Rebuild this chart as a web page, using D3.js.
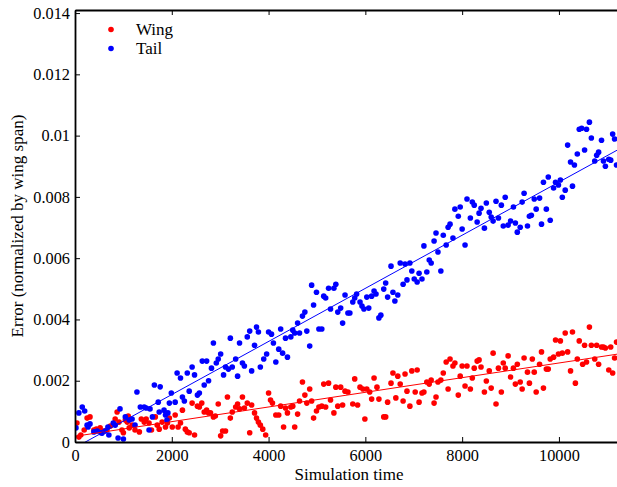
<!DOCTYPE html>
<html>
<head>
<meta charset="utf-8">
<script src="https://cdn.jsdelivr.net/npm/d3@7"></script>
<style>
  body { margin: 0; background: #fff; }
  svg text { font-family: "Liberation Serif", "Times New Roman", Times, "DejaVu Serif", serif; }
</style>
</head>
<body>
<div id="chart"></div>
<script>
// [time, error]
const wingPoints = [
  [0,.00049],[40,.00062],[80,.00016],[120,.00023],[190,.00039],[250,.00078],[310,.00082],[390,.00039],[440,.00042],[520,.00046],
  [600,.00036],[660,.00039],[730,.00052],[830,.00075],[870,.00098],[910,.00065],[970,.00039],[1000,.0003],[1040,.00072],[1080,.00065],
  [1100,.00085],[1120,.00046],[1180,.00055],[1240,.00039],[1330,.00033],[1370,.00075],[1430,.00065],[1470,.00075],[1530,.00062],[1580,.00039],
  [1660,.00082],[1700,.00055],[1740,.00042],[1800,.00065],[1870,.00049],[1910,.00062],[1950,.00078],
  [2010,.00049],[2070,.00088],[2130,.00049],[2180,.00062],[2220,.00104],[2280,.00042],[2320,.00033],[2360,.0003],[2420,.00127],[2470,.00023],
  [2530,.00117],[2570,.00114],[2620,.00127],[2670,.00098],[2720,.00104],[2760,.00095],[2800,.00095],[2860,.00082],[2900,.00085],[2960,.00124],
  [3010,.0002],[3050,.00036],[3110,.00036],[3150,.00147],[3210,.00078],[3250,.00098],[3320,.00114],[3360,.00124],[3400,.00108],[3460,.00147],
  [3500,.00111],[3560,.00127],[3610,.0003],[3650,.00121],[3710,.00095],[3750,.00078],[3790,.00065],[3830,.00055],[3880,.00042],[3940,.00023],
  [4000,.0016],[4040,.00137],[4080,.00127],[4150,.00088],[4210,.00088],[4250,.00117],[4310,.00049],[4350,.00111],[4390,.00095],[4460,.00114],
  [4500,.00117],[4540,.00049],[4600,.00091],[4640,.00134],[4700,.00196],[4750,.00153],[4790,.00127],[4850,.00173],[4890,.00134],[4930,.00078],
  [4990,.00101],[5040,.00114],[5100,.00117],[5140,.00189],[5180,.00114],[5240,.00192],[5280,.00137],[5350,.00095],[5390,.00179],[5430,.00117],
  [5490,.00179],[5530,.00121],[5580,.00166],[5640,.00163],
  [5740,.00124],[5780,.00206],[5840,.00121],[5890,.00179],[5950,.00173],[5990,.00075],[6030,.00173],[6090,.00163],[6130,.0014],[6180,.00209],
  [6240,.00179],[6280,.0014],[6380,.00082],[6420,.00082],[6460,.0013],[6530,.00192],[6570,.00225],[6630,.00144],[6670,.00215],[6720,.00189],
  [6780,.00134],[6820,.00222],[6860,.00166],[6920,.00117],[6960,.00232],[7030,.00163],[7070,.00235],[7110,.0013],[7170,.0016],[7210,.00163],
  [7270,.00196],[7320,.00189],[7360,.00202],[7420,.00127],[7460,.00147],[7500,.00196],[7560,.00202],
  [7610,.00225],[7670,.00261],[7710,.00173],[7750,.00271],[7810,.00248],[7850,.00258],[7920,.00153],[7960,.00215],[8000,.00248],[8060,.00183],
  [8100,.00248],[8170,.00173],[8210,.00209],[8250,.00241],[8310,.00264],[8350,.00268],[8390,.00245],[8460,.00163],[8500,.00199],[8560,.00232],
  [8600,.00176],[8640,.0029],[8700,.00124],[8750,.00241],[8810,.00163],[8850,.00258],[8890,.00241],[8950,.00281],[9000,.00212],[9060,.00241],
  [9100,.00189],[9140,.00254],[9200,.00196],[9240,.00173],[9280,.00274],[9350,.00228],[9390,.00192],
  [9450,.00271],[9490,.00228],[9530,.00163],[9600,.00254],[9640,.00294],[9680,.00176],[9740,.00238],[9780,.00238],[9820,.00271],[9890,.00277],
  [9930,.00333],[9990,.00287],[10030,.0033],[10070,.0029],[10130,.00356],[10180,.00294],[10240,.00232],[10280,.00359],[10340,.00192],[10380,.00271],
  [10420,.0033],[10490,.00254],[10530,.00316],[10570,.00261],[10630,.00375],[10670,.00316],[10740,.00271],[10780,.00316],[10820,.00254],[10880,.0031],
  [10920,.0031],[10960,.00307],[11030,.00235],[11070,.0031],[11110,.00225],[11150,.00274],[11190,.00326]
];

const tailPoints = [
  [20,.00046],[80,.00095],[150,.00114],[200,.00101],[250,.00055],[270,.00049],[310,.00059],[390,.00033],[460,.00036],[540,.0003],
  [560,.00029],[620,.00036],[680,.00049],[700,.00023],[790,.00062],[830,.00055],[890,.00013],[930,.00108],[1000,.0001],[1040,.00082],
  [1120,.00072],[1180,.00075],[1240,.00055],[1280,.00163],[1350,.00114],[1430,.00114],[1470,.00111],[1530,.00039],[1550,.00108],[1600,.00082],
  [1640,.00186],[1720,.0013],[1740,.00098],[1760,.0018],[1840,.00104],[1870,.00088],[1900,.00072],[1920,.00095],[1950,.00127],[1990,.0016],
  [2070,.0013],[2110,.00225],[2180,.00209],[2220,.00147],[2260,.00134],[2320,.00225],[2360,.00166],[2420,.00245],[2470,.00219],[2530,.00153],
  [2570,.0016],[2630,.00264],[2670,.00186],[2720,.00264],[2760,.002],[2820,.00241],[2860,.00323],[2920,.00258],[2960,.00271],[3010,.00287],
  [3070,.00219],[3110,.00245],[3170,.00238],[3210,.00339],[3250,.00245],[3320,.00271],[3360,.00215],[3400,.00323],[3460,.00258],[3500,.00248],
  [3560,.00343],[3610,.00362],[3650,.00232],[3710,.00316],[3750,.00375],[3790,.00359],[3830,.00245],
  [3900,.00271],[3960,.00287],[4000,.00359],[4060,.00352],[4100,.00323],[4150,.00261],[4210,.00303],[4250,.00369],[4290,.0029],[4350,.00339],
  [4390,.00277],[4460,.00343],[4500,.00365],[4540,.00356],[4600,.00388],[4640,.00356],[4700,.00411],[4750,.00424],[4790,.00362],[4850,.00313],
  [4890,.00512],[4930,.00447],[4990,.00489],[5040,.00369],[5100,.00369],[5140,.00476],[5180,.0047],[5240,.00502],[5280,.00434],[5350,.00502],
  [5390,.00515],[5430,.00424],[5490,.00437],[5530,.00388],[5580,.0048],[5640,.00421],[5680,.00421],
  [5740,.00457],[5780,.0047],[5820,.00483],[5890,.00457],[5930,.00444],[5970,.00434],[6030,.00473],[6070,.00437],[6130,.00476],[6180,.00493],
  [6220,.00483],[6280,.00405],[6320,.00414],[6380,.00499],[6420,.00519],[6460,.00473],[6530,.00574],[6570,.00489],[6610,.0046],[6670,.0048],
  [6720,.00584],[6780,.00515],[6820,.00581],[6860,.00529],[6920,.00584],[6960,.00558],[7010,.00532],[7070,.00522],[7110,.00551],[7170,.00532],
  [7210,.0064],[7270,.00555],[7320,.00594],[7360,.00584],[7420,.00656],[7460,.00682],[7500,.0062],[7560,.00558],
  [7610,.00675],[7670,.00643],[7710,.00701],[7750,.00711],[7810,.00666],[7850,.0076],[7920,.00737],[7960,.00767],[8000,.00695],[8060,.00643],
  [8100,.00793],[8170,.00731],[8210,.00783],[8250,.00773],[8310,.00718],[8350,.00747],[8390,.00763],[8460,.00698],[8500,.0078],[8560,.0075],
  [8600,.00734],[8640,.00721],[8700,.00786],[8750,.00731],[8810,.00773],[8850,.00705],[8890,.00799],[8950,.00708],[9000,.00721],[9060,.00767],
  [9100,.00715],[9140,.00685],[9200,.00701],[9240,.00783],[9280,.00812],[9350,.00705],[9390,.00737],
  [9430,.0074],[9490,.00793],[9530,.0076],[9600,.00796],[9640,.00711],[9680,.00848],[9740,.0076],[9780,.00865],[9820,.00724],[9890,.00829],
  [9930,.00848],[9990,.00839],[10030,.00855],[10070,.00799],[10130,.00822],[10180,.00969],[10240,.00914],[10280,.00835],[10320,.00904],[10380,.0094],
  [10420,.01021],[10470,.01024],[10530,.00953],[10570,.01021],[10630,.01044],[10670,.00992],[10740,.00917],[10780,.00936],[10820,.00946],[10880,.00985],
  [10920,.00917],[10960,.009],[11030,.00923],[11070,.0092],[11110,.01005],[11150,.00989],[11190,.00904]
];

const xTicks = [0, 2000, 4000, 6000, 8000, 10000];
const yTicks = [0, 0.002, 0.004, 0.006, 0.008, 0.01, 0.012, 0.014];
const seriesNames = ["Wing", "Tail"];
const seriesColors = ["#ff0000", "#0000ff"];

const width = 617, height = 487;
const margin = { left: 75, right: 617, top: 10, bottom: 442 };
const serifFont = "'Liberation Serif', 'Times New Roman', Times, 'DejaVu Serif', serif";

const svg = d3.select("#chart").append("svg").attr("width", width).attr("height", height)
  .attr("font-family", serifFont);

const x = d3.scaleLinear().domain([0, 11200]).range([margin.left, margin.right]);
const y = d3.scaleLinear().domain([0, 0.0141]).range([margin.bottom, margin.top]);

svg.append("clipPath").attr("id", "plotClip")
  .append("rect").attr("x", margin.left).attr("y", margin.top)
  .attr("width", margin.right - margin.left).attr("height", margin.bottom - margin.top);

// least squares fit
function fit(points) {
  const mx = d3.mean(points, d => d[0]), my = d3.mean(points, d => d[1]);
  let sxy = 0, sxx = 0;
  points.forEach(d => { sxy += (d[0] - mx) * (d[1] - my); sxx += (d[0] - mx) ** 2; });
  const b = sxy / sxx;
  return { a: my - b * mx, b: b };
}

const plot = svg.append("g").attr("clip-path", "url(#plotClip)");
[wingPoints, tailPoints].forEach((pts, i) => {
  plot.append("g").selectAll("circle")
    .data(pts)
    .join("circle")
    .attr("cx", d => x(d[0]))
    .attr("cy", d => y(d[1]))
    .attr("r", 2.8)
    .attr("fill", seriesColors[i]);
});
[wingPoints, tailPoints].forEach((pts, i) => {
  const f = fit(pts);
  const xs = x.domain();
  plot.append("line")
    .attr("x1", x(xs[0])).attr("y1", y(f.a + f.b * xs[0]))
    .attr("x2", x(xs[1])).attr("y2", y(f.a + f.b * xs[1]))
    .attr("stroke", seriesColors[i])
    .attr("stroke-width", 1);
});

// axes, ticks pointing inward
const fmt = d => String(+d.toFixed(3));
const xAxis = svg.append("g").attr("transform", `translate(0,${margin.bottom})`)
  .call(d3.axisBottom(x).tickValues(xTicks).tickSizeInner(-5).tickSizeOuter(0).tickPadding(7).tickFormat(d3.format("d")));
const xTop = svg.append("g").attr("transform", `translate(0,${margin.top})`)
  .call(d3.axisTop(x).tickValues(xTicks).tickSizeInner(-5).tickSizeOuter(0).tickFormat(""));
const yAxis = svg.append("g").attr("transform", `translate(${margin.left},0)`)
  .call(d3.axisLeft(y).tickValues(yTicks).tickSizeInner(-5).tickSizeOuter(0).tickPadding(5).tickFormat(fmt));

[xAxis, xTop, yAxis].forEach(g => {
  g.attr("font-family", serifFont).attr("font-size", 16.3);
  g.select(".domain").attr("stroke", "#000").attr("stroke-width", 1.8);
  g.selectAll(".tick line").attr("stroke", "#000").attr("stroke-width", 1);
  g.selectAll(".tick text").attr("fill", "#000");
});

svg.append("text")
  .attr("x", (margin.left + margin.right) / 2 + 3).attr("y", 480)
  .attr("text-anchor", "middle")
  .attr("font-size", 17)
  .text("Simulation time");

svg.append("text")
  .attr("transform", `translate(23,${(margin.top + margin.bottom) / 2}) rotate(-90)`)
  .attr("text-anchor", "middle")
  .attr("font-size", 17)
  .text("Error (normalized by wing span)");

// legend
const legend = svg.append("g");
seriesNames.forEach((name, i) => {
  legend.append("circle").attr("cx", 111).attr("cy", 29.5 + i * 19).attr("r", 2.8).attr("fill", seriesColors[i]);
  legend.append("text").attr("x", 136).attr("y", 35 + i * 19).attr("font-size", 17).text(name);
});
</script>
</body>
</html>
